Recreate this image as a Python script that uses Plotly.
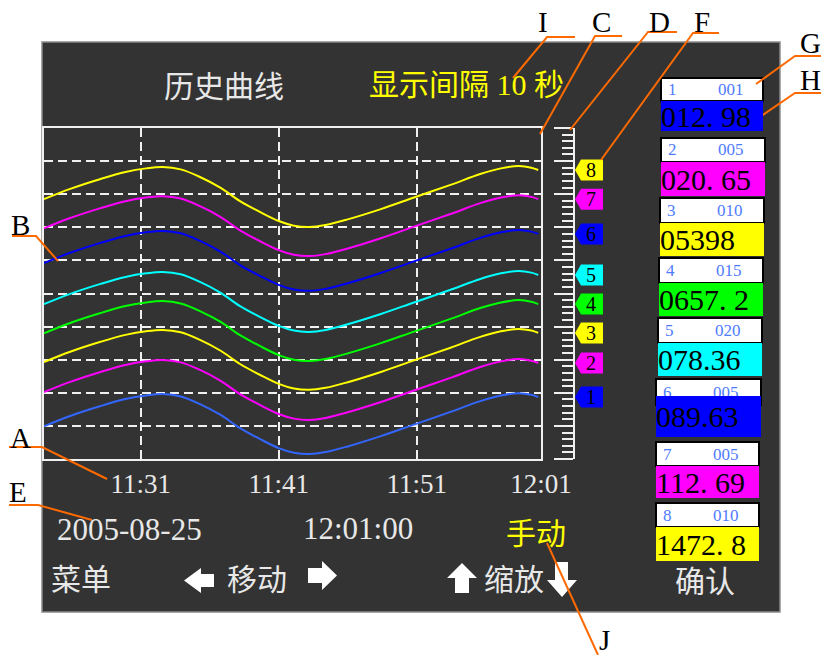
import plotly.graph_objects as go

W, H = 821, 655


def px(x):
    return x / W


def py(y):
    return 1 - y / H


# ---------------- data ----------------
minutes = [24.0, 25.9, 28.1, 29.9, 31.4, 32.6, 33.9, 35.3, 36.8, 38.2, 39.7, 41.0,
           42.1, 43.2, 44.4, 46.0, 48.4, 50.8, 53.5, 55.6, 57.1, 58.4, 59.3, 59.8]
ch1 = [9.9, 13.0, 16.0, 18.1, 19.2, 19.6, 18.9, 16.6, 13.3, 9.3, 5.9, 3.3,
       1.9, 1.5, 2.1, 3.8, 6.9, 10.4, 14.3, 17.5, 19.2, 19.9, 19.4, 18.7]
ch2 = [20.2, 23.3, 26.3, 28.4, 29.5, 29.9, 29.2, 26.9, 23.6, 19.6, 16.2, 13.6,
       12.2, 11.8, 12.4, 14.1, 17.2, 20.7, 24.6, 27.8, 29.5, 30.2, 29.7, 29.0]
ch3 = [29.3, 32.4, 35.4, 37.5, 38.6, 39.0, 38.3, 36.0, 32.7, 28.7, 25.3, 22.7,
       21.3, 20.9, 21.5, 23.2, 26.3, 29.8, 33.7, 36.9, 38.6, 39.3, 38.8, 38.1]
ch4 = [38.0, 41.1, 44.1, 46.2, 47.3, 47.7, 47.0, 44.7, 41.4, 37.4, 34.0, 31.4,
       30.0, 29.6, 30.2, 31.9, 35.0, 38.5, 42.4, 45.6, 47.3, 48.0, 47.5, 46.8]
ch5 = [46.8, 49.9, 52.9, 55.0, 56.1, 56.5, 55.8, 53.5, 50.2, 46.2, 42.8, 40.2,
       38.8, 38.4, 39.0, 40.7, 43.8, 47.3, 51.2, 54.4, 56.1, 56.8, 56.3, 55.6]
ch6 = [59.2, 62.3, 65.3, 67.4, 68.5, 68.9, 68.2, 65.9, 62.6, 58.6, 55.2, 52.6,
       51.2, 50.8, 51.4, 53.1, 56.2, 59.7, 63.6, 66.8, 68.5, 69.2, 68.7, 68.0]
ch7 = [69.7, 72.8, 75.8, 77.9, 79.0, 79.4, 78.7, 76.4, 73.1, 69.1, 65.7, 63.1,
       61.7, 61.3, 61.9, 63.6, 66.7, 70.2, 74.1, 77.3, 79.0, 79.7, 79.2, 78.5]
ch8 = [78.5, 81.6, 84.6, 86.7, 87.8, 88.2, 87.5, 85.2, 81.9, 77.9, 74.5, 71.9,
       70.5, 70.1, 70.7, 72.4, 75.5, 79.0, 82.9, 86.1, 87.8, 88.5, 88.0, 87.3]

tick_vals = [31, 41, 51, 60]
tick_labels = ["11:31", "11:41", "11:51", "12:01"]

channel_ids = ["1", "2", "3", "4", "5", "6", "7", "8"]
channel_codes = ["001", "005", "010", "015", "020", "005", "005", "010"]
channel_readings = ["012. 98", "020. 65", "05398", "0657. 2", "078.36", "089.63", "112. 69", "1472. 8"]

# ---------------- styles ----------------
series = [ch1, ch2, ch3, ch4, ch5, ch6, ch7, ch8]
curve_colors = ["#3366FF", "#FF00FF", "#FFFF00", "#00FF00", "#00FFFF", "#0000FF", "#FF00FF", "#FFFF00"]
tag_colors = ["#0000FF", "#FF00FF", "#FFFF00", "#00FF00", "#00FFFF", "#0000FF", "#FF00FF", "#FFFF00"]

SERIF = "Liberation Serif, Noto Sans CJK SC, serif"
CJK = "Noto Sans CJK SC, sans-serif"
LIGHT = "#E8E8E8"
YEL = "#FFFF00"
ORANGE = "#FF6A00"
PANEL = "#333333"

fig = go.Figure()

for vals, col in zip(series, curve_colors):
    fig.add_trace(go.Scatter(x=minutes, y=vals, mode="lines",
                             line=dict(color=col, width=2, shape="spline", smoothing=1.0),
                             hoverinfo="skip", showlegend=False))

# helper traces so the ruler axis and tag subplot exist
fig.add_trace(go.Scatter(x=[30], y=[50], yaxis="y2", mode="markers",
                         marker=dict(opacity=0), hoverinfo="skip", showlegend=False))
fig.add_trace(go.Scatter(x=[590], y=[50], xaxis="x2", yaxis="y3", mode="markers",
                         marker=dict(opacity=0), hoverinfo="skip", showlegend=False))

shapes = []
annotations = []

# dark panel
shapes.append(dict(type="rect", xref="paper", yref="paper", layer="below",
                   x0=px(42), x1=px(780), y0=py(612), y1=py(42),
                   fillcolor=PANEL, line=dict(color="#8C8C8C", width=1.5)))

# channel tags on ruler (built from last value of each series)
half = 3.17
for cid, vals, col in zip(channel_ids, series, tag_colors):
    v = vals[-1]
    path = (f"M 575,{v} L 581,{v + half} L 603,{v + half} "
            f"L 603,{v - half} L 581,{v - half} Z")
    shapes.append(dict(type="path", xref="x2", yref="y3", path=path,
                       fillcolor=col, line=dict(color=col, width=0)))
    annotations.append(dict(x=591, y=v, xref="x2", yref="y3", text=cid, showarrow=False,
                            font=dict(family=SERIF, size=20, color="black"),
                            xanchor="center", yanchor="middle"))

# right panel boxes: (x_left, x_right, header_top, header_bottom, value_top, value_bottom)
boxes = [(661, 763, 78, 101, 101, 131), (661, 765, 138, 162, 162, 196),
         (660, 764, 198, 223, 223, 256), (659, 763, 258, 283, 283, 316),
         (658, 762, 318, 343, 343, 376), (656, 761, 379, 405, 396, 437),
         (656, 759, 442, 466, 466, 498), (656, 759, 503, 527, 527, 561)]

for (xl, xr, ht, hb, vt, vb), cid, code in zip(boxes, channel_ids, channel_codes):
    shapes.append(dict(type="rect", xref="paper", yref="paper",
                       x0=px(xl), x1=px(xr), y0=py(hb), y1=py(ht),
                       fillcolor="white", line=dict(color="black", width=2)))
    yc = (ht + hb) / 2
    annotations.append(dict(x=px(xl + 5), y=py(yc), xref="paper", yref="paper", text=cid,
                            showarrow=False, xanchor="left", yanchor="middle",
                            font=dict(family=SERIF, size=17, color="#4F7BFF")))
    annotations.append(dict(x=px(xl + 70), y=py(yc), xref="paper", yref="paper", text=code,
                            showarrow=False, xanchor="center", yanchor="middle",
                            font=dict(family=SERIF, size=17, color="#4F7BFF")))

for (xl, xr, ht, hb, vt, vb), reading, col in zip(boxes, channel_readings, tag_colors):
    annotations.append(dict(x=px(xl), y=py(vt), xref="paper", yref="paper", text=reading,
                            showarrow=False, xanchor="left", yanchor="top",
                            width=xr - xl, height=vb - vt, bgcolor=col,
                            borderpad=0, borderwidth=0, align="left", valign="middle",
                            font=dict(family=SERIF, size=30, color="black")))


def label(x, y, s, size, color, family=SERIF):
    annotations.append(dict(x=px(x), y=py(y), xref="paper", yref="paper", text=s,
                            showarrow=False, xanchor="center", yanchor="middle",
                            font=dict(family=family, size=size, color=color)))


# header texts
label(224, 84, "历史曲线", 30, LIGHT, CJK)
label(466, 84, "显示间隔 10 秒", 30, YEL, SERIF)

# status texts
label(129, 529, "2005-08-25", 31, LIGHT)
label(358, 528, "12:01:00", 31, LIGHT)
label(536, 531, "手动", 30, YEL, CJK)

# bottom menu
label(81, 577, "菜单", 30, LIGHT, CJK)
label(257, 577, "移动", 30, LIGHT, CJK)
label(514, 577, "缩放", 30, LIGHT, CJK)
label(705, 579, "确认", 30, LIGHT, CJK)


def poly(points, fill=None, color=None, width=2):
    d = "M " + " L ".join(f"{px(x)},{py(y)}" for x, y in points)
    if fill:
        d += " Z"
        shapes.append(dict(type="path", xref="paper", yref="paper", path=d,
                           fillcolor=fill, line=dict(width=0)))
    else:
        shapes.append(dict(type="path", xref="paper", yref="paper", path=d,
                           line=dict(color=color, width=width)))


# arrows
poly([(184, 580.5), (201, 568), (201, 574), (214, 574), (214, 587), (201, 587), (201, 593)], fill="white")
poly([(337, 575.5), (322, 561), (322, 568), (308, 568), (308, 583), (322, 583), (322, 590)], fill="white")
poly([(462, 563), (477, 578), (469, 578), (469, 593), (455, 593), (455, 578), (447, 578)], fill="white")
poly([(562, 597), (547, 580), (555, 580), (555, 562), (568, 562), (568, 580), (577, 580)], fill="white")

# callout letters and leader lines
letters = [("I", 543, 22), ("C", 601, 22), ("D", 659, 22), ("F", 702, 22),
           ("G", 810, 43), ("H", 810, 80), ("B", 20, 225), ("A", 20, 438),
           ("E", 18, 492), ("J", 604, 640)]
for t, x, y in letters:
    label(x, y, t, 29, "black")

leaders = [[(575, 37), (547, 37), (513, 78)],
           [(622, 36), (595, 36), (540, 134)],
           [(677, 32), (648, 32), (570, 130)],
           [(719, 33), (693, 33), (601, 160)],
           [(821, 56), (795, 56), (756, 84)],
           [(821, 93), (795, 93), (757, 119)],
           [(12, 236), (36, 236), (58, 261)],
           [(9, 447), (42, 447), (107, 479)],
           [(9, 505), (38, 505), (92, 520)],
           [(547, 543), (598, 655)]]
for pts in leaders:
    poly(pts, color=ORANGE, width=2)

GRID = "#F0F0F0"
fig.update_layout(
    width=W, height=H, autosize=False,
    margin=dict(l=0, r=0, t=0, b=0, pad=0, autoexpand=False),
    paper_bgcolor="white",
    plot_bgcolor=PANEL,
    showlegend=False,
    xaxis=dict(domain=[px(44), px(541)], range=[24, 60],
               tickvals=tick_vals, ticktext=tick_labels,
               showgrid=True, gridcolor=GRID, gridwidth=2, griddash="9px,5px",
               showline=True, mirror=True, linecolor=GRID, linewidth=2,
               ticks="",
               tickfont=dict(family=SERIF, size=27, color=LIGHT),
               zeroline=False, fixedrange=True, automargin=False),
    yaxis=dict(domain=[py(459), py(128)], range=[0, 100], tick0=0, dtick=10,
               showticklabels=False, ticks="",
               showgrid=True, gridcolor=GRID, gridwidth=2, griddash="9px,5px",
               showline=True, mirror=True, linecolor=GRID, linewidth=2,
               zeroline=False, fixedrange=True, automargin=False),
    yaxis2=dict(overlaying="y", anchor="free", position=px(574), side="left",
                range=[0, 100], tick0=0, dtick=10, showticklabels=False,
                showgrid=False, zeroline=False,
                showline=True, linecolor=GRID, linewidth=2,
                ticks="outside", ticklen=19, tickwidth=2, tickcolor=GRID,
                minor=dict(tick0=0, dtick=2, ticks="outside", ticklen=11,
                           tickwidth=2, tickcolor=GRID, showgrid=False),
                fixedrange=True, automargin=False),
    xaxis2=dict(domain=[px(560), px(620)], range=[560, 620], anchor="y3",
                visible=False, showgrid=False, fixedrange=True),
    yaxis3=dict(domain=[py(459), py(128)], range=[0, 100], anchor="x2",
                visible=False, showgrid=False, zeroline=False, fixedrange=True),
    shapes=shapes,
    annotations=annotations,
)

fig.write_html(
    "out.html",
    config={"responsive": False, "displayModeBar": False},
    post_script=(
        "document.body.style.margin='0px';"
        "document.body.style.overflow='hidden';"
    ),
)
